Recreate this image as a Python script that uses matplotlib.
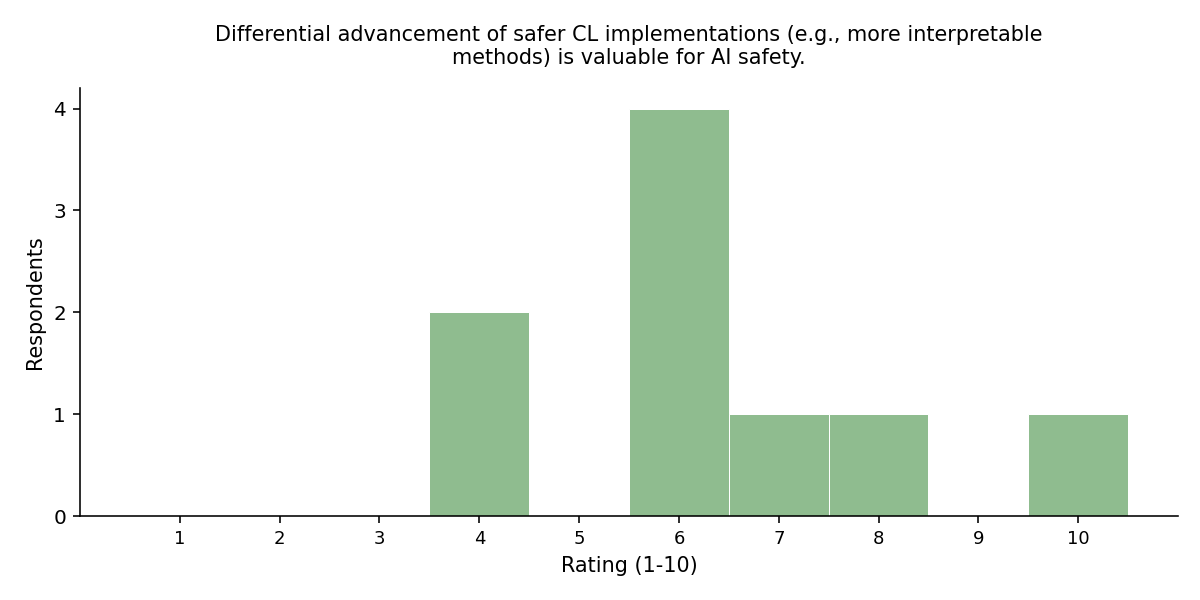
import matplotlib
matplotlib.use("Agg")
import matplotlib.pyplot as plt

ratings = [1, 2, 3, 4, 5, 6, 7, 8, 9, 10]
counts = [0, 0, 0, 2, 0, 4, 1, 1, 0, 1]
title = ("Differential advancement of safer CL implementations (e.g., more interpretable\n"
         "methods) is valuable for AI safety.")

DPI = 144
fig = plt.figure(figsize=(1200 / DPI, 600 / DPI), dpi=DPI)
ax = fig.add_axes([0.0667, 0.14, 0.915, 0.713])
ax.bar(ratings, counts, width=1.0, color="#8fbc8f", edgecolor="white", linewidth=0.5)

ax.set_xlim(0, 11)
ax.set_ylim(0, 4.2)
ax.set_xticks(ratings)
ax.set_xticklabels([str(r) for r in ratings], fontsize=9)
ax.set_yticks([0, 1, 2, 3, 4])
ax.tick_params(axis="y", labelsize=10)
ax.set_xlabel("Rating (1-10)", fontsize=10.4)
ax.set_ylabel("Respondents", fontsize=10.4)
ax.set_title(title, fontsize=10.4, pad=12)
ax.spines["top"].set_visible(False)
ax.spines["right"].set_visible(False)

fig.savefig("out.png", dpi=DPI)
